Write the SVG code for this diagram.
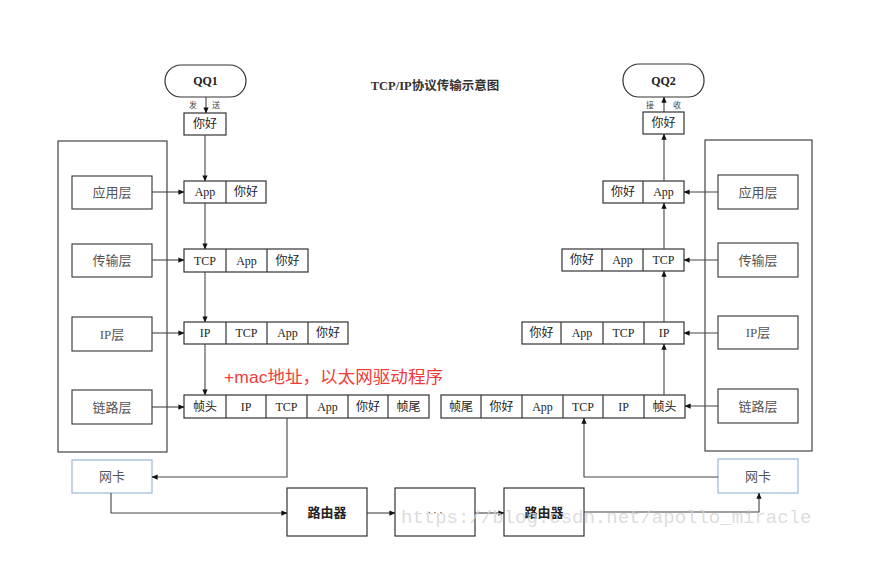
<svg xmlns="http://www.w3.org/2000/svg" width="875" height="562" viewBox="0 0 875 562">
<defs>
<marker id="ah" viewBox="0 0 8 8" refX="7.5" refY="4" markerWidth="6" markerHeight="6" orient="auto" markerUnits="userSpaceOnUse">
<path d="M0,0.5 L8,4 L0,7.5 Z" fill="#111"/>
</marker>
<style>
.bx{fill:#fff;stroke:#333;stroke-width:1.2}
.big{fill:none;stroke:#444;stroke-width:1.2}
.lay{fill:#fff;stroke:#444;stroke-width:1.2}
.nic{fill:#fff;stroke:#9bb7d6;stroke-width:1.2}
.t{font-family:"Liberation Serif","Noto Sans CJK SC",serif;font-size:12px;fill:#222;text-anchor:middle;dominant-baseline:central}
.lt{font-family:"Liberation Serif","Noto Sans CJK SC",serif;font-size:13px;fill:#555;text-anchor:middle;dominant-baseline:central}
.sm{font-family:"Liberation Serif","Noto Sans CJK SC",serif;font-size:8px;fill:#444;text-anchor:middle;dominant-baseline:central}
.c{fill:none;stroke:#444;stroke-width:1.1;marker-end:url(#ah)}
.dv{stroke:#333;stroke-width:1.2}
</style>
</defs>
<rect width="875" height="562" fill="#fff"/>

<text x="435" y="86" class="t" style="font-size:12.5px;font-weight:bold;fill:#333">TCP/IP协议传输示意图</text>

<g id="qq1"><rect class="bx" x="165" y="65" width="81" height="32" rx="16"/><text x="205.5" y="81" class="t" style="font-weight:bold">QQ1</text></g>
<g id="qq2"><rect class="bx" x="623" y="64" width="81" height="33" rx="16"/><text x="663.5" y="80.5" class="t" style="font-weight:bold">QQ2</text></g>
<g id="send-label"><text x="193" y="105" class="sm">发</text><text x="216" y="105" class="sm">送</text></g>
<g id="recv-label"><text x="650" y="105" class="sm">接</text><text x="677" y="105" class="sm">收</text></g>

<g id="data-l"><rect class="bx" x="184" y="113" width="42" height="22"/><text x="205" y="124" class="t">你好</text></g>
<g id="data-r"><rect class="bx" x="643" y="112" width="41" height="22"/><text x="663.5" y="123" class="t">你好</text></g>

<g id="stack-left">
<rect class="big" x="58" y="141" width="109" height="311"/>
<g id="app-l"><rect class="lay" x="72" y="176" width="80" height="33"/><text x="112" y="192.5" class="lt">应用层</text></g>
<g id="trans-l"><rect class="lay" x="72" y="244" width="80" height="33"/><text x="112" y="260.5" class="lt">传输层</text></g>
<g id="ip-l"><rect class="lay" x="72" y="317" width="80" height="34"/><text x="112" y="334" class="lt">IP层</text></g>
<g id="link-l"><rect class="lay" x="72" y="390" width="80" height="34"/><text x="112" y="407" class="lt">链路层</text></g>
</g>

<g id="stack-right">
<rect class="big" x="705" y="140" width="107" height="311"/>
<g id="app-r"><rect class="lay" x="718" y="175" width="80" height="34"/><text x="758" y="192" class="lt">应用层</text></g>
<g id="trans-r"><rect class="lay" x="718" y="243" width="80" height="34"/><text x="758" y="260" class="lt">传输层</text></g>
<g id="ip-r"><rect class="lay" x="718" y="316" width="80" height="33"/><text x="758" y="332.5" class="lt">IP层</text></g>
<g id="link-r"><rect class="lay" x="718" y="389" width="80" height="34"/><text x="758" y="406" class="lt">链路层</text></g>
</g>

<g id="row-app-l"><rect class="bx" x="184" y="181" width="82" height="22"/><line class="dv" x1="226" y1="181" x2="226" y2="203"/>
<text x="205" y="192" class="t">App</text><text x="246" y="192" class="t">你好</text></g>
<g id="row-tcp-l"><rect class="bx" x="184" y="249" width="124" height="23"/><line class="dv" x1="226" y1="249" x2="226" y2="272"/><line class="dv" x1="267" y1="249" x2="267" y2="272"/>
<text x="205" y="260.5" class="t">TCP</text><text x="246.5" y="260.5" class="t">App</text><text x="287.5" y="260.5" class="t">你好</text></g>
<g id="row-ip-l"><rect class="bx" x="184" y="322" width="164" height="22"/><line class="dv" x1="226" y1="322" x2="226" y2="344"/><line class="dv" x1="267" y1="322" x2="267" y2="344"/><line class="dv" x1="308" y1="322" x2="308" y2="344"/>
<text x="205" y="333" class="t">IP</text><text x="246.5" y="333" class="t">TCP</text><text x="287.5" y="333" class="t">App</text><text x="328" y="333" class="t">你好</text></g>
<g id="row-link-l"><rect class="bx" x="184" y="395" width="245" height="23"/>
<line class="dv" x1="226" y1="395" x2="226" y2="418"/><line class="dv" x1="266" y1="395" x2="266" y2="418"/><line class="dv" x1="307" y1="395" x2="307" y2="418"/><line class="dv" x1="348" y1="395" x2="348" y2="418"/><line class="dv" x1="388" y1="395" x2="388" y2="418"/>
<text x="205" y="406.5" class="t">帧头</text><text x="246" y="406.5" class="t">IP</text><text x="286.5" y="406.5" class="t">TCP</text><text x="327.5" y="406.5" class="t">App</text><text x="368" y="406.5" class="t">你好</text><text x="408.5" y="406.5" class="t">帧尾</text></g>

<g id="row-app-r"><rect class="bx" x="603" y="181" width="81" height="22"/><line class="dv" x1="643" y1="181" x2="643" y2="203"/>
<text x="623" y="192" class="t">你好</text><text x="663.5" y="192" class="t">App</text></g>
<g id="row-tcp-r"><rect class="bx" x="562" y="249" width="122" height="22"/><line class="dv" x1="602" y1="249" x2="602" y2="271"/><line class="dv" x1="643" y1="249" x2="643" y2="271"/>
<text x="582" y="260" class="t">你好</text><text x="622.5" y="260" class="t">App</text><text x="663.5" y="260" class="t">TCP</text></g>
<g id="row-ip-r"><rect class="bx" x="522" y="322" width="162" height="22"/><line class="dv" x1="561" y1="322" x2="561" y2="344"/><line class="dv" x1="603" y1="322" x2="603" y2="344"/><line class="dv" x1="644" y1="322" x2="644" y2="344"/>
<text x="541.5" y="333" class="t">你好</text><text x="582" y="333" class="t">App</text><text x="623.5" y="333" class="t">TCP</text><text x="664" y="333" class="t">IP</text></g>
<g id="row-link-r"><rect class="bx" x="441" y="395" width="244" height="23"/>
<line class="dv" x1="481" y1="395" x2="481" y2="418"/><line class="dv" x1="522" y1="395" x2="522" y2="418"/><line class="dv" x1="563" y1="395" x2="563" y2="418"/><line class="dv" x1="603" y1="395" x2="603" y2="418"/><line class="dv" x1="644" y1="395" x2="644" y2="418"/>
<text x="461" y="406.5" class="t">帧尾</text><text x="501.5" y="406.5" class="t">你好</text><text x="542.5" y="406.5" class="t">App</text><text x="583" y="406.5" class="t">TCP</text><text x="623.5" y="406.5" class="t">IP</text><text x="664.5" y="406.5" class="t">帧头</text></g>

<text x="224" y="377" textLength="219" lengthAdjust="spacingAndGlyphs" style="font-family:'Liberation Sans','Noto Sans CJK SC',sans-serif;font-size:17px;fill:#f03c3c;dominant-baseline:central">+mac地址，以太网驱动程序</text>

<g id="nic-l"><rect class="nic" x="72" y="460" width="80" height="33"/><text x="112" y="476.5" class="lt">网卡</text></g>
<g id="nic-r"><rect class="nic" x="718" y="459" width="80" height="34"/><text x="758" y="476" class="lt">网卡</text></g>
<g id="router1"><rect class="bx" x="287" y="488" width="80" height="48"/><text x="327" y="512" class="t" style="font-size:13px;font-weight:bold">路由器</text></g>
<g id="dots"><rect class="bx" x="395" y="488" width="80" height="48"/><text x="435" y="512" class="t" style="font-size:10px">· · ·</text></g>
<g id="router2"><rect class="bx" x="504" y="488" width="80" height="48"/><text x="544" y="512" class="t" style="font-size:13px;font-weight:bold">路由器</text></g>

<g id="connectors">
<path class="c" d="M206,97 V113"/>
<path class="c" d="M205,135 V181"/>
<path class="c" d="M205,203 V249"/>
<path class="c" d="M205,272 V322"/>
<path class="c" d="M205,344 V395"/>
<path class="c" d="M152,192 H184"/>
<path class="c" d="M152,260 H184"/>
<path class="c" d="M152,333 H184"/>
<path class="c" d="M152,407 H184"/>
<path class="c" d="M287,418 V477 H152"/>
<path class="c" d="M111,493 V513 H287"/>
<path class="c" d="M367,513 H395"/>
<path class="c" d="M475,513 H504"/>
<path class="c" d="M584,512 H759 V493"/>
<path class="c" d="M718,477 H584 V418"/>
<path class="c" d="M664,395 V344"/>
<path class="c" d="M664,322 V271"/>
<path class="c" d="M664,249 V203"/>
<path class="c" d="M664,181 V134"/>
<path class="c" d="M664,112 V97"/>
<path class="c" d="M718,192 H684"/>
<path class="c" d="M718,260 H684"/>
<path class="c" d="M718,333 H684"/>
<path class="c" d="M718,406 H685"/>
</g>

<text x="401" y="523" style="font-family:'Liberation Mono',monospace;font-size:19px;fill:#d4d4d4;fill-opacity:0.8">https://blog.csdn.net/apollo_miracle</text>
</svg>
